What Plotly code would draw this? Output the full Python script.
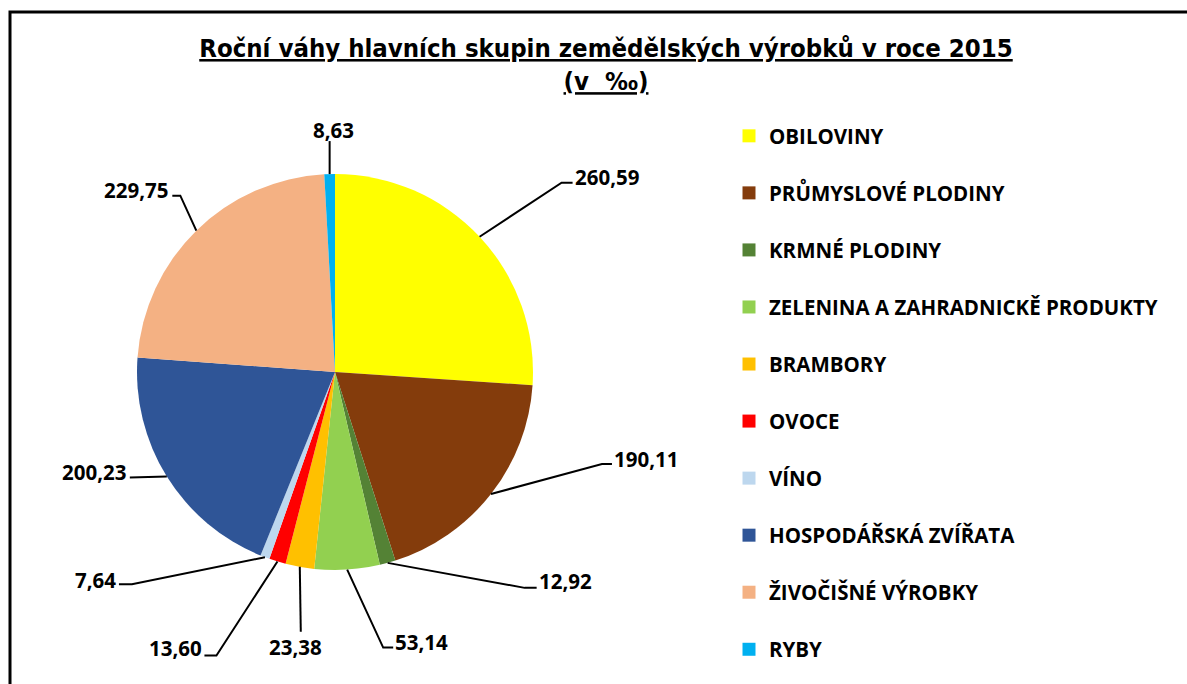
import math
import plotly.graph_objects as go

# ---- data ----
categories = ["OBILOVINY", "PRŮMYSLOVÉ PLODINY", "KRMNÉ PLODINY",
              "ZELENINA A ZAHRADNICKĚ PRODUKTY", "BRAMBORY", "OVOCE", "VÍNO",
              "HOSPODÁŘSKÁ ZVÍŘATA", "ŽIVOČIŠNÉ VÝROBKY", "RYBY"]
values = [260.59, 190.11, 12.92, 53.14, 23.38, 13.60, 7.64, 200.23, 229.75, 8.63]
value_labels = ["260,59", "190,11", "12,92", "53,14", "23,38", "13,60", "7,64",
                "200,23", "229,75", "8,63"]
colors = ["#FFFF00", "#843C0C", "#548235", "#92D050", "#FFC000", "#FF0000",
          "#BDD7EE", "#2F5597", "#F4B183", "#00B0F0"]
title_text = "Roční váhy hlavních skupin zemědělských výrobků v roce 2015<br>(v \u00a0‰)"

# ---- layout / style ----
W, H = 1187, 684
CX, CY, R = 335, 372, 198          # pie centre and radius in pixels
LABEL_FONT = dict(family="Open Sans", size=20.5, color="black", weight=700)

# leader-line style: (elbow dx,dy), (end dx,dy), (text dx,dy) relative to slice edge
leaders = [
    ((82, -54), (93, -54), (127, -60)),
    ((111, -30), (121, -30), (155, -35)),
    ((137, 25), (149, 25), (178, 18)),
    ((36, 78), (46, 78), (74, 72)),
    ((1, 65), (1, 65), (-4, 80)),
    ((-61, 94), (-73, 94), (-102, 87)),
    ((-133, 27), (-146, 27), (-169, 23)),
    ((-37, 1), (-37, 1), (-73, -5)),
    ((-16, -35), (-24, -35), (-60, -41)),
    ((0, -33), (0, -33), (4, -44)),
]


def px(x):
    return x / W


def py(y):
    return 1 - y / H


fig = go.Figure()
fig.add_trace(go.Pie(
    labels=categories, values=values, sort=False, direction="clockwise",
    rotation=0, marker=dict(colors=colors, line=dict(width=0)),
    textinfo="none", showlegend=False,
    domain=dict(x=[px(CX - R), px(CX + R)], y=[py(CY + R), py(CY - R)]),
))

# legend entries
for i, (cat, col) in enumerate(zip(categories, colors)):
    fig.add_trace(go.Scatter(
        x=[None], y=[None], mode="markers", name=cat, legendgroup=f"g{i}",
        marker=dict(symbol="square", size=13, color=col),
    ))

total = sum(values)
cum = 0.0
shapes = []
annotations = []
for i, v in enumerate(values):
    mid = (cum + v / 2) / total * 2 * math.pi
    cum += v
    ex = CX + R * math.sin(mid)
    ey = CY - R * math.cos(mid)
    (bx, by), (nx, ny), (tx, ty) = leaders[i]
    path = (f"M {px(ex)},{py(ey)} L {px(ex + bx)},{py(ey + by)} "
            f"L {px(ex + nx)},{py(ey + ny)}")
    shapes.append(dict(type="path", xref="paper", yref="paper", path=path,
                       line=dict(color="black", width=2)))
    annotations.append(dict(
        x=px(ex + tx), y=py(ey + ty), xref="paper", yref="paper",
        text=value_labels[i], showarrow=False, font=LABEL_FONT,
        xanchor="center", yanchor="middle"))

# chart border (left and top edges visible)
shapes.append(dict(type="rect", xref="paper", yref="paper",
                   x0=px(10), y0=-0.1, x1=1.1, y1=py(12),
                   line=dict(color="black", width=3)))

fig.update_layout(
    width=W, height=H,
    margin=dict(l=0, r=0, t=0, b=0, autoexpand=False),
    paper_bgcolor="white", plot_bgcolor="white",
    title=dict(text=title_text, x=px(606), xanchor="center", y=py(57),
               yanchor="top",
               font=dict(family="DejaVu Sans Condensed", size=25.5,
                         color="black", weight=700, lineposition="under")),
    xaxis=dict(visible=False), yaxis=dict(visible=False),
    legend=dict(x=px(729), y=py(116), xanchor="left", yanchor="top",
                tracegroupgap=27.4, font=LABEL_FONT, bgcolor="rgba(0,0,0,0)"),
    shapes=shapes, annotations=annotations,
)

fig.write_html("out.html")
